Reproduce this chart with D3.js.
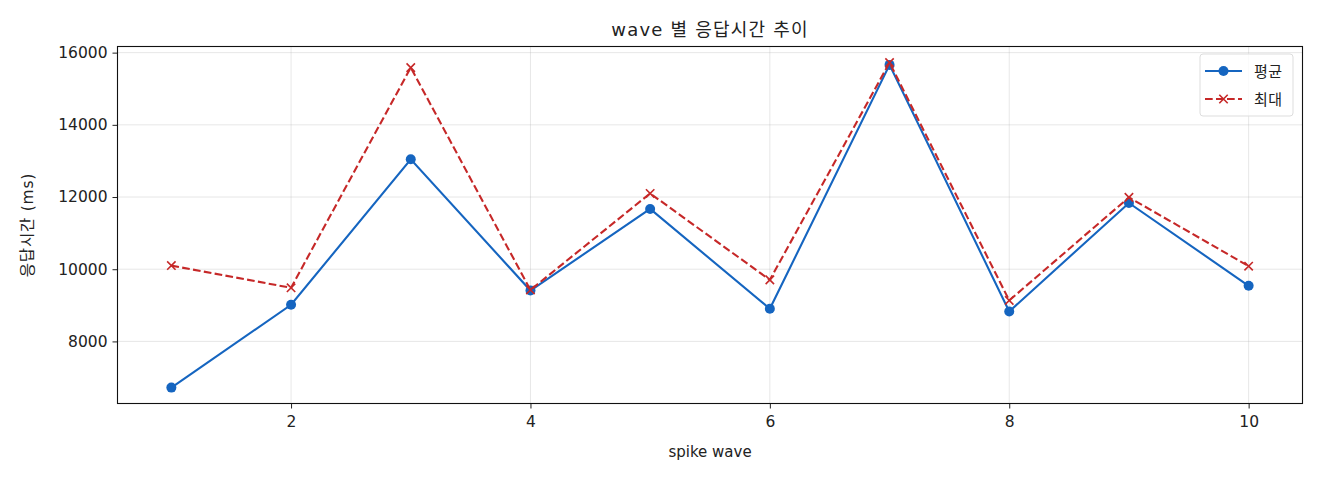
<!DOCTYPE html>
<html>
<head>
<meta charset="utf-8">
<script src="https://cdn.jsdelivr.net/npm/d3@7"></script>
<style>
  body { margin: 0; background: #fff; }
  text { font-family: "DejaVu Sans", "Noto Sans CJK KR", sans-serif; fill: #222; }
</style>
</head>
<body>
<div id="chart"></div>
<script>
const width = 1320;
const height = 480;

// data
const waves = [1, 2, 3, 4, 5, 6, 7, 8, 9, 10];
const avgMs = [6720, 9015, 13045, 9410, 11670, 8905, 15660, 8830, 11835, 9540];
const maxMs = [10100, 9485, 15585, 9425, 12100, 9705, 15725, 9135, 11990, 10085];
const xTicks = [2, 4, 6, 8, 10];
const yTicks = [8000, 10000, 12000, 14000, 16000];
const seriesNames = ["평균", "최대"];

const blue = "#1565C0";
const red = "#C62828";
const fontStack = "\"DejaVu Sans\", \"Noto Sans CJK KR\", sans-serif";

// plot area
const plotLeft = 117.5, plotRight = 1302.5, plotTop = 46.5, plotBottom = 403.5;

const x = d3.scaleLinear().domain([0.55, 10.45]).range([plotLeft, plotRight]);
const y = d3.scaleLinear().domain([6280, 16170]).range([plotBottom, plotTop]);

const svg = d3.select("#chart").append("svg")
    .attr("width", width)
    .attr("height", height);

// grid
svg.append("g")
    .selectAll("line")
    .data(xTicks)
    .enter()
    .append("line")
    .attr("x1", d => x(d)).attr("x2", d => x(d))
    .attr("y1", plotTop).attr("y2", plotBottom)
    .attr("stroke", "#b0b0b0").attr("stroke-opacity", 0.3).attr("stroke-width", 1);

svg.append("g")
    .selectAll("line")
    .data(yTicks)
    .enter()
    .append("line")
    .attr("x1", plotLeft).attr("x2", plotRight)
    .attr("y1", d => y(d)).attr("y2", d => y(d))
    .attr("stroke", "#b0b0b0").attr("stroke-opacity", 0.3).attr("stroke-width", 1);

// axes
const xAxis = svg.append("g")
    .attr("transform", `translate(0,${plotBottom})`)
    .call(d3.axisBottom(x).tickValues(xTicks).tickSize(5).tickPadding(7).tickFormat(d3.format("d")));
const yAxis = svg.append("g")
    .attr("transform", `translate(${plotLeft},0)`)
    .call(d3.axisLeft(y).tickValues(yTicks).tickSize(5).tickPadding(5).tickFormat(d3.format("d")));

[xAxis, yAxis].forEach(a => {
    a.select(".domain").remove();
    a.selectAll("line").attr("stroke", "#222").attr("stroke-width", 1);
    a.selectAll("text").attr("font-size", "15.5px").style("fill", "#222")
        .attr("font-family", fontStack);
});

// frame
svg.append("rect")
    .attr("x", plotLeft).attr("y", plotTop)
    .attr("width", plotRight - plotLeft).attr("height", plotBottom - plotTop)
    .attr("fill", "none").attr("stroke", "#111").attr("stroke-width", 1.1);

// lines
const line = d3.line().x(d => x(d[0])).y(d => y(d[1]));
const avgData = waves.map((w, i) => [w, avgMs[i]]);
const maxData = waves.map((w, i) => [w, maxMs[i]]);

svg.append("path")
    .datum(avgData)
    .attr("d", line)
    .attr("fill", "none").attr("stroke", blue).attr("stroke-width", 2.1);

svg.selectAll(".avgDot")
    .data(avgData)
    .enter()
    .append("circle")
    .attr("class", "avgDot")
    .attr("cx", d => x(d[0]))
    .attr("cy", d => y(d[1]))
    .attr("r", 5)
    .attr("fill", blue);

svg.append("path")
    .datum(maxData)
    .attr("d", line)
    .attr("fill", "none").attr("stroke", red).attr("stroke-width", 2.1)
    .attr("stroke-dasharray", "7.7,3.3");

const cross = 4.2;
function drawCross(g, cx, cy) {
    g.append("path")
        .attr("d", `M${cx - cross},${cy - cross}L${cx + cross},${cy + cross}M${cx - cross},${cy + cross}L${cx + cross},${cy - cross}`)
        .attr("stroke", red).attr("stroke-width", 1.6).attr("fill", "none");
}
const crosses = svg.append("g");
maxData.forEach(d => drawCross(crosses, x(d[0]), y(d[1])));

// title and labels
svg.append("text")
    .attr("x", (plotLeft + plotRight) / 2).attr("y", 36)
    .attr("text-anchor", "middle")
    .attr("font-size", "18px")
    .attr("letter-spacing", "1.2px")
    .text("wave 별 응답시간 추이");

svg.append("text")
    .attr("x", (plotLeft + plotRight) / 2).attr("y", 457)
    .attr("text-anchor", "middle")
    .attr("font-size", "15px")
    .text("spike wave");

svg.append("text")
    .attr("transform", `translate(33,${(plotTop + plotBottom) / 2}) rotate(-90)`)
    .attr("text-anchor", "middle")
    .attr("font-size", "15.5px")
    .attr("letter-spacing", "0.8px")
    .text("응답시간 (ms)");

// legend
const legend = svg.append("g");
legend.append("rect")
    .attr("x", 1200).attr("y", 54)
    .attr("width", 93).attr("height", 62)
    .attr("rx", 3)
    .attr("fill", "#fff").attr("fill-opacity", 0.8)
    .attr("stroke", "#ddd").attr("stroke-width", 1);

const rows = [71, 99];
legend.append("line")
    .attr("x1", 1205).attr("x2", 1242).attr("y1", rows[0]).attr("y2", rows[0])
    .attr("stroke", blue).attr("stroke-width", 2.1);
legend.append("circle")
    .attr("cx", 1223.5).attr("cy", rows[0]).attr("r", 5).attr("fill", blue);
legend.append("line")
    .attr("x1", 1205).attr("x2", 1242).attr("y1", rows[1]).attr("y2", rows[1])
    .attr("stroke", red).attr("stroke-width", 2.1).attr("stroke-dasharray", "7.7,3.3");
drawCross(legend, 1223.5, rows[1]);

legend.selectAll(".lbl")
    .data(seriesNames)
    .enter()
    .append("text")
    .attr("class", "lbl")
    .attr("x", 1254)
    .attr("y", (d, i) => rows[i] + 5.5)
    .attr("font-size", "15px")
    .attr("letter-spacing", "0.5px")
    .text(d => d);
</script>
</body>
</html>
